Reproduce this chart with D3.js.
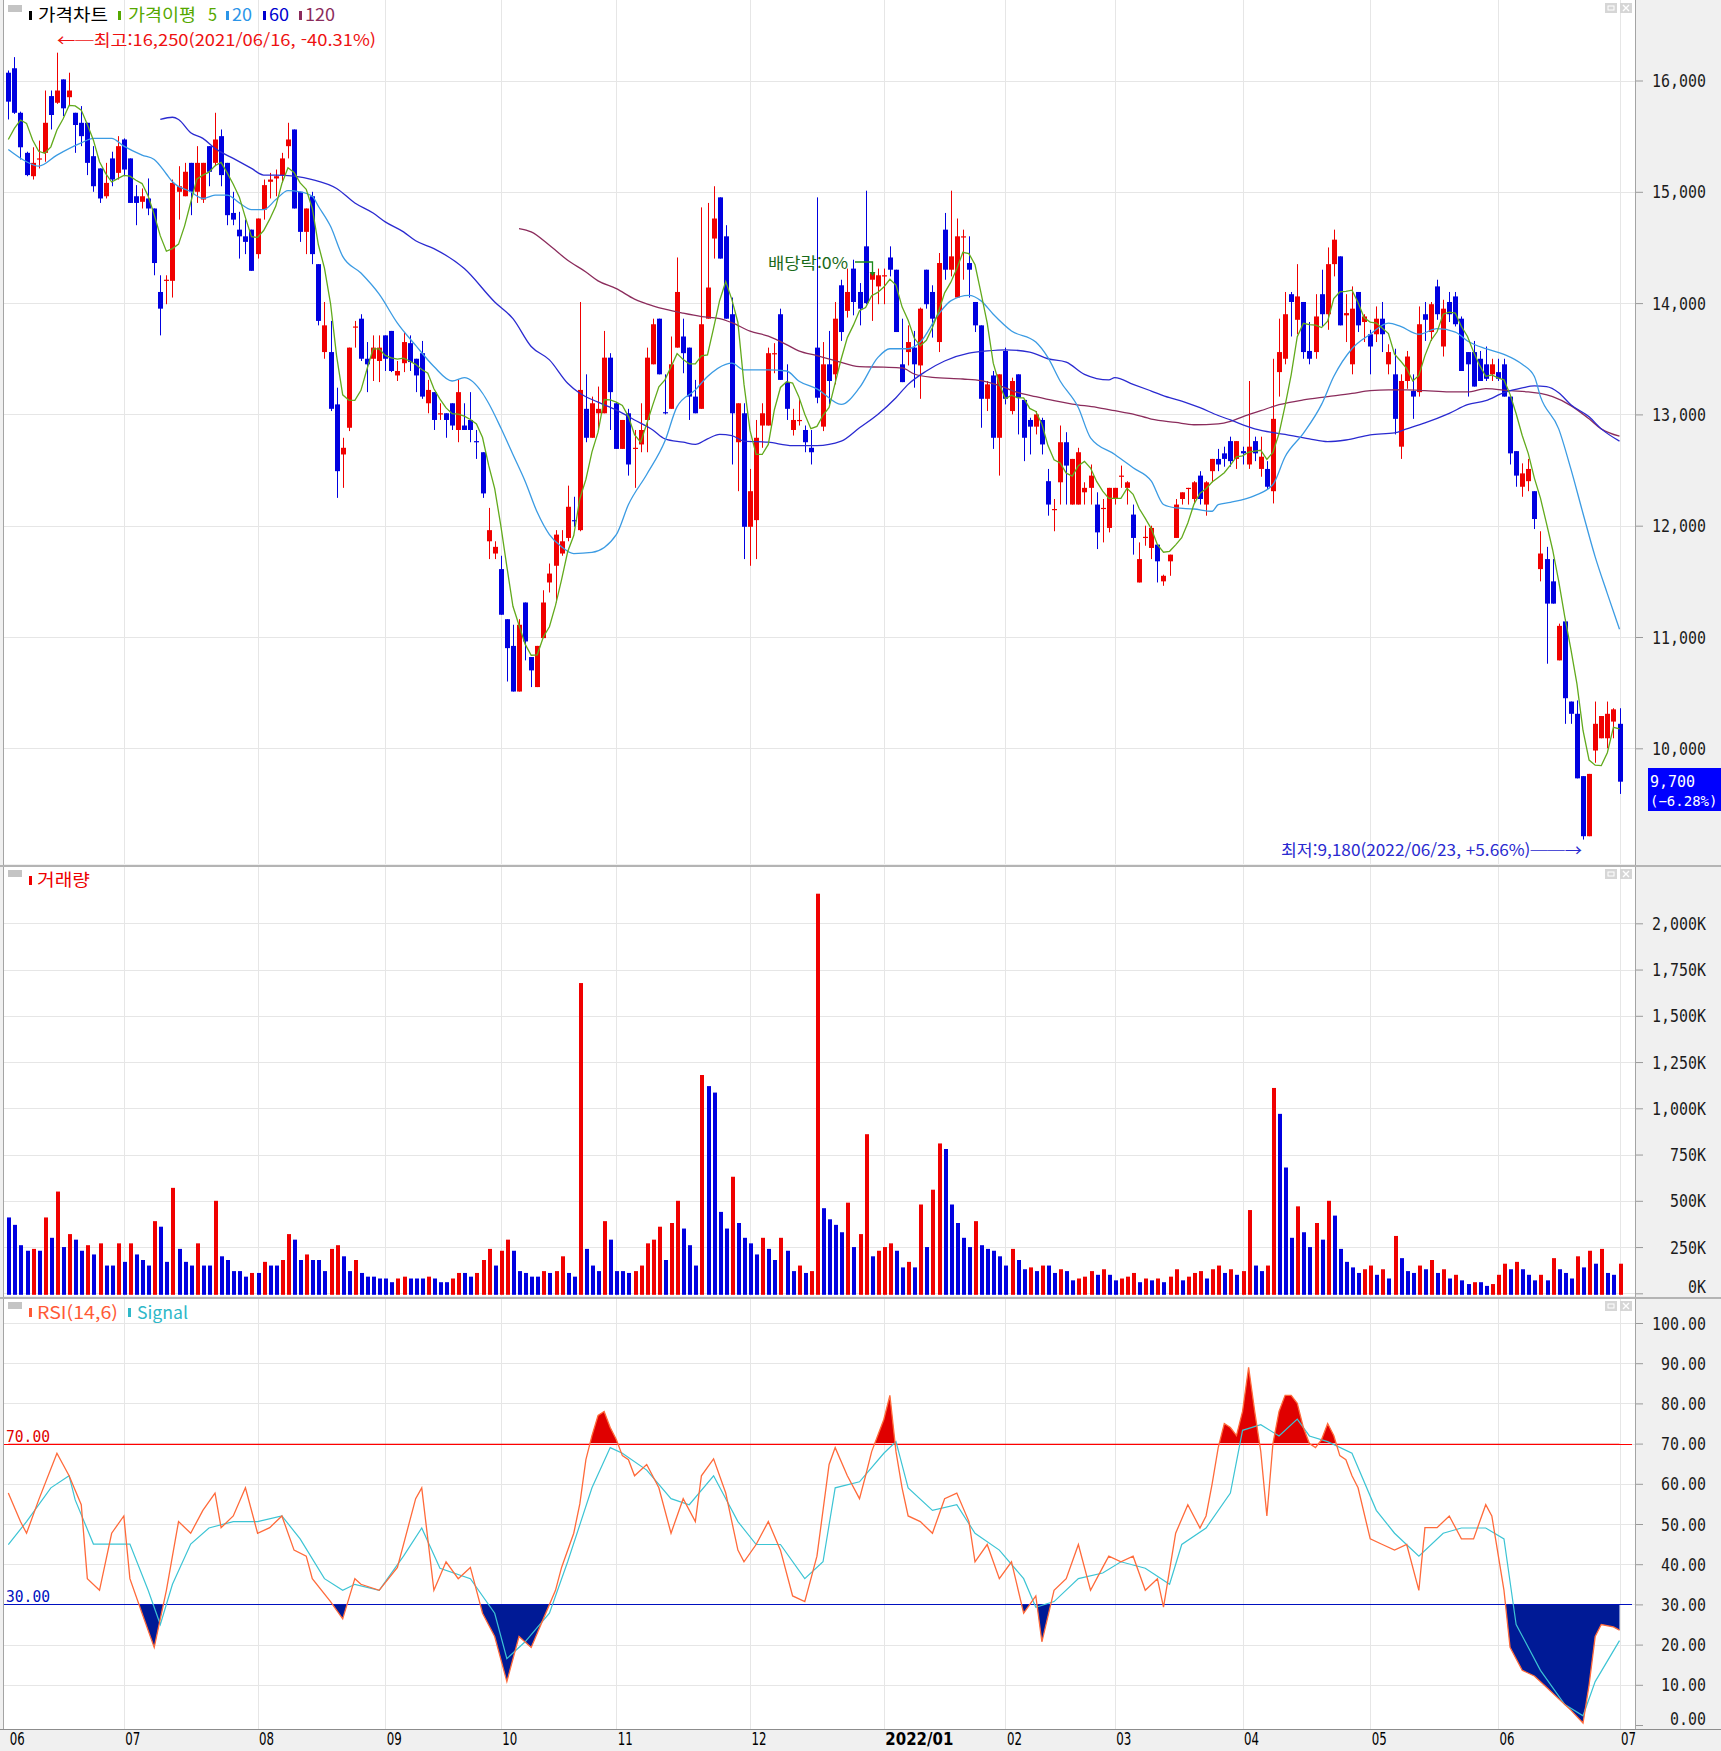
<!DOCTYPE html>
<html lang="ko"><head><meta charset="utf-8"><title>가격차트</title>
<script src="https://cdn.jsdelivr.net/npm/d3@7/dist/d3.min.js"></script>
<style>html,body{margin:0;padding:0;background:#f0f0f0;overflow:hidden}svg{display:block}</style>
</head><body><svg id="chart" width="1721" height="1751"></svg>
<script>
// ---------------- DATA ----------------
const openP=[16070,16110,15710,15350,15140,15290,15350,15860,15800,16010,
15850,15710,15620,15620,15320,15210,14960,15300,15170,15470,
15300,14960,14910,14940,14850,14100,14200,14200,15000,14960,
15260,15000,14930,15410,15260,15500,15260,14810,14660,14600,
14660,14440,14840,15090,15120,15150,15410,15560,15000,14640,
14960,14350,13560,13560,13090,12640,12880,13780,13860,13500,
13500,13480,13710,13750,13350,13460,13640,13500,13550,13100,
13200,13000,13010,13100,12860,12900,12950,12760,12660,11860,
11750,11610,11160,10920,10510,11310,10820,10550,10990,11490,
11640,11750,11890,12050,11960,13050,12790,13010,13010,13510,
13100,12690,13010,12690,12730,12950,13450,13860,13020,13050,
13600,13700,13600,13160,13050,13860,14580,14950,14600,13900,
12750,13010,11990,12050,12900,12900,13540,13900,13290,12860,
12940,12860,12700,13600,12890,13450,13360,14160,13930,14310,
14100,14510,14210,14150,14240,14410,14300,13450,13560,13600,
13440,14300,14100,13650,14660,14300,14050,14590,14360,14010,
13800,13140,13350,12790,13570,13030,13360,13130,12950,12890,
12950,12400,12150,12390,12750,12190,12190,12300,12340,12190,
12150,11980,12240,12440,12340,12100,11490,11890,11800,11830,
11500,11680,11890,12240,12330,12240,12450,12190,12490,12600,
12650,12760,12600,12670,12550,12760,12510,12510,12310,13380,
13500,14080,13850,14010,13570,13560,14080,13900,14350,14420,
13890,13450,14100,13830,13720,13720,13860,13450,13360,12710,
13300,13210,13200,13900,13740,14150,13610,14010,14060,13860,
13560,13560,13500,13450,13360,13380,13450,13160,12670,12350,
12400,12310,11610,11700,11500,10790,11140,10420,10310,9750,
9210,9980,10090,10090,10240,10220];
const highP=[16090,16210,15720,15360,15400,15460,15910,15910,16250,16010,
16070,15710,15770,15620,15410,15210,15260,15360,15500,15480,
15300,15060,15030,15120,14850,14250,14250,15110,15230,15260,
15260,15410,15260,15410,15710,15560,15260,15000,14820,14750,
14660,14760,15110,15170,15200,15350,15620,15560,15000,14850,
15000,14350,14010,13840,13240,12790,13600,13840,13900,13650,
13710,13710,13710,13750,13480,13740,13710,13500,13660,13310,
13200,13100,13010,13100,13310,13100,13200,12860,12660,12160,
11860,11730,11160,11110,11160,11310,10820,10920,11420,11660,
11960,11960,12360,12260,14010,13360,13160,13250,13750,13550,
13110,12950,13050,12860,13100,13600,13860,13860,13360,13700,
14410,13860,13600,13310,14860,14900,15050,14950,14700,14050,
13100,13100,12510,12950,13100,13600,13640,13950,13450,13050,
13140,12900,12860,14950,13650,13750,14010,14210,14310,14390,
14180,15010,14310,14310,14310,14510,14300,13860,13800,13750,
13960,14300,14160,14450,14810,15010,14760,14660,14600,14010,
13800,13300,13390,13360,13600,13330,13360,13130,12970,13030,
12970,12510,12240,12900,12840,12600,12700,12390,12550,12300,
12240,12340,12340,12540,12400,12190,11850,12000,12000,11830,
11560,11740,12240,12300,12340,12400,12490,12400,12600,12690,
12710,12800,12760,12710,13300,12800,12800,12580,13500,13860,
14100,14100,14350,14010,13830,14080,14300,14500,14660,14420,
14080,14150,14100,13900,13760,13970,14010,13630,13590,13360,
13570,13360,13970,14010,14010,14210,14030,14100,14100,13880,
13560,13660,13570,13610,13500,13500,13500,13160,12670,12560,
12600,12310,11950,11810,11700,11120,11160,10420,10430,9750,
9770,10420,10290,10420,10360,10360];
const lowP=[15650,15700,15290,15140,15110,15210,15270,15560,15790,15680,
15770,15350,15410,15150,15000,14900,14940,15050,15110,15140,
14900,14700,14850,14790,14250,13710,13990,14050,14750,14960,
14790,14900,14900,15050,15230,15050,14700,14700,14400,14440,
14290,14400,14750,14940,14960,15080,15300,14850,14550,14440,
14350,13800,13500,13030,12250,12340,12850,13600,13480,13200,
13300,13290,13390,13380,13300,13380,13390,13200,13140,13010,
12860,12950,12790,12860,12750,12860,12750,12600,12250,11700,
11700,11200,10600,10510,10510,10790,10550,10550,10990,11400,
11310,11730,11860,11990,11950,12750,12790,12870,13010,12860,
12690,12690,12450,12340,12660,12660,13450,13360,13000,13050,
13600,13370,12950,13010,13050,13860,14400,14400,13860,12550,
12310,11700,11640,11700,12700,12900,13370,13310,12950,12810,
12900,12660,12550,13100,12850,13090,13270,13660,13870,13890,
13800,13990,13840,13990,13990,14240,13740,13290,13440,13240,
13140,13950,13690,13560,14210,14240,14050,14210,14050,13740,
12880,13030,12690,12450,13090,13000,12820,12580,12640,12820,
12640,12090,11950,12190,12190,12190,12190,12190,12190,11790,
11850,11940,12190,12340,12190,11740,11490,11820,11700,11490,
11460,11550,11890,12190,12190,12200,12190,12090,12390,12490,
12530,12530,12510,12550,12510,12580,12440,12330,12200,13160,
13450,13700,13720,13500,13450,13500,13790,13760,14240,13800,
13650,13360,13740,13650,13360,13650,13560,13360,12820,12600,
13230,12960,13160,13660,13660,13850,13520,13830,13790,13390,
13160,13250,13300,13300,13300,13300,13160,12550,12350,12260,
12310,11970,11500,10760,11300,10790,10220,10220,9730,9180,
9210,9870,10090,10000,10090,9590];
const closeP=[15810,15710,15400,15150,15260,15300,15620,15690,15910,15750,
15910,15600,15500,15260,15050,14940,15080,15110,15410,15200,
14900,14900,14960,14850,14360,13950,14210,15080,15050,15180,
15000,15260,15260,15180,15470,15150,14790,14750,14600,14550,
14290,14760,15060,15110,15140,15300,15470,14850,14640,14850,
14440,13840,13800,13050,12490,12700,13600,13790,13500,13450,
13600,13600,13500,13390,13390,13650,13470,13350,13160,13220,
12950,13010,12950,12900,13200,12860,12860,12750,12290,11960,
11810,11200,10900,10510,11110,10960,10700,10920,11310,11570,
11920,11860,12170,12040,13220,12790,13100,13050,13510,13200,
12690,12950,12550,12700,12860,13510,13810,13360,13010,13450,
14100,13550,13160,13010,13810,14140,14760,14400,13860,13010,
13100,11990,12310,12790,13010,13550,13550,13310,13050,12950,
12950,12750,12660,13150,13450,13300,13860,13740,14100,14010,
13950,14000,14270,14250,14250,14300,13740,13290,13650,13450,
13950,13990,13860,14360,14300,14420,14600,14600,14300,13800,
13140,13270,12790,13360,13140,13300,13150,12790,12890,13000,
12730,12190,12150,12750,12540,12600,12660,12340,12450,11940,
12160,12340,12340,12450,12390,11890,11700,11900,11980,11680,
11550,11740,12190,12300,12340,12390,12240,12390,12600,12550,
12600,12580,12760,12650,12710,12650,12620,12350,12960,13560,
13900,14010,14060,13560,13500,13880,13900,14350,14570,13800,
13910,13950,13800,13880,13610,13860,13720,13560,12960,13300,
13520,13160,13810,13850,13990,13900,13950,13900,13810,13390,
13450,13250,13300,13320,13450,13320,13160,12650,12450,12470,
12510,12060,11750,11300,11300,11100,10450,10310,9730,9210,
9770,10220,10290,10310,10350,9700];
// volume in thousands of shares
const volumeK=[410,370,260,230,240,230,410,300,550,250,
320,290,230,260,210,270,150,150,270,170,
270,210,180,150,390,360,170,570,240,170,
150,270,150,150,500,200,180,120,120,90,
110,110,170,150,150,180,320,290,180,210,
180,180,120,240,260,200,120,180,110,90,
90,80,80,60,80,90,80,80,80,90,
80,60,60,80,110,110,90,110,180,240,
150,230,290,230,120,110,90,90,120,110,
120,200,110,90,1677,240,150,120,390,290,
120,120,110,120,150,270,290,360,180,380,
500,350,260,150,1180,1120,1085,440,350,630,
380,300,270,210,300,240,180,300,230,120,
150,110,120,2160,460,400,370,330,490,250,
320,860,200,230,250,270,230,140,170,140,
480,250,560,810,780,480,380,300,250,390,
260,240,230,200,150,240,180,130,140,120,
150,150,110,130,120,70,80,90,120,100,
130,100,70,80,90,110,60,80,70,80,
60,90,130,70,90,110,120,80,130,150,
110,130,100,120,450,150,120,150,1110,970,
680,300,470,330,250,380,290,500,420,240,
170,140,110,130,150,100,130,80,310,190,
120,110,150,130,180,110,130,80,100,70,
50,60,60,40,50,100,160,130,170,130,
100,70,100,70,190,130,110,80,200,140,
230,160,240,110,100,160];
// 5-day MA values read for the first four candles (their window starts before the chart)
const ma5Start=[15470,15570,15645,15615];
// moving averages: [candle index, value]
const ma20Pts=[[0,15380],[3,15270],[5,15230],[8,15330],[12,15440],[14,15480],[17,15480],[19,15410],[22,15330],[24,15290],[26,15160],[27,15090],[30,15000],[32,14940],[34,14970],[36,14970],[38,14900],[40,14840],[42,14840],[44,14930],[46,15010],[48,15000],[50,14960],[51,14870],[53,14690],[55,14420],[58,14270],[61,14080],[64,13820],[67,13620],[70,13430],[73,13300],[75,13330],[78,13190],[79,13100],[81,12880],[83,12640],[85,12400],[87,12120],[89,11920],[91,11810],[93,11750],[96,11760],[100,11920],[102,12190],[105,12460],[108,12760],[110,13070],[113,13220],[115,13340],[118,13450],[119,13460],[121,13400],[125,13400],[128,13390],[130,13300],[133,13230],[137,13090],[140,13240],[143,13510],[145,13590],[148,13590],[150,13650],[153,13900],[155,14020],[158,14070],[160,14020],[162,13900],[165,13750],[169,13650],[171,13510],[173,13300],[176,13060],[178,12790],[182,12640],[185,12520],[188,12400],[190,12190],[192,12160],[195,12150],[198,12130],[199,12190],[201,12210],[205,12270],[208,12370],[210,12620],[213,12830],[216,13090],[218,13340],[221,13590],[224,13720],[227,13820],[229,13790],[232,13720],[235,13770],[238,13740],[240,13660],[243,13590],[246,13540],[249,13450],[251,13340],[252,13160],[255,12870],[257,12510],[259,12110],[261,11720],[263,11390],[265,11070]];
const ma60Pts=[[25,15650],[27,15670],[28,15650],[30,15530],[32,15480],[34,15390],[37,15300],[40,15210],[42,15150],[44,15150],[47,15140],[50,15110],[54,15030],[57,14900],[60,14810],[62,14730],[65,14640],[67,14560],[70,14490],[75,14310],[80,14010],[83,13860],[86,13610],[89,13490],[92,13280],[94,13190],[97,13110],[100,13040],[103,12950],[106,12860],[108,12780],[111,12750],[113,12730],[115,12780],[117,12820],[119,12810],[121,12760],[125,12750],[129,12720],[133,12720],[137,12760],[140,12880],[143,13000],[146,13150],[148,13270],[151,13390],[154,13480],[158,13550],[161,13570],[164,13580],[168,13560],[171,13500],[174,13470],[177,13360],[181,13310],[182,13330],[185,13270],[188,13210],[191,13150],[193,13120],[196,13060],[199,12990],[201,12950],[205,12870],[210,12820],[214,12780],[217,12755],[220,12770],[224,12816],[228,12834],[230,12870],[233,12924],[237,13010],[240,13087],[243,13123],[246,13195],[249,13238],[251,13256],[253,13249],[255,13195],[257,13087],[260,12978],[262,12870],[265,12760]];
const ma120Pts=[[84,14670],[86,14640],[89,14520],[92,14385],[95,14280],[97,14200],[100,14130],[103,14036],[106,13976],[108,13945],[111,13909],[114,13879],[117,13861],[119,13824],[122,13748],[125,13703],[128,13627],[130,13570],[133,13528],[136,13484],[140,13429],[144,13424],[147,13418],[149,13363],[152,13333],[157,13318],[160,13303],[163,13258],[166,13198],[169,13159],[172,13123],[175,13093],[179,13063],[182,13033],[185,13003],[188,12958],[192,12928],[195,12907],[199,12915],[201,12937],[203,12978],[206,13033],[209,13087],[213,13130],[217,13159],[221,13188],[224,13213],[227,13220],[230,13220],[233,13213],[237,13202],[240,13202],[243,13231],[247,13213],[250,13202],[252,13188],[254,13159],[257,13079],[260,12960],[262,12870],[265,12805]];
// RSI(14) and Signal(6): [candle index, value]
const rsiPts=[[0,57.7],[2,50.6],[3,47.7],[5,56],[8,67.6],[10,62],[12,54.8],[13,36.4],[15,33.5],[17,47.7],[19,52],[20,36.4],[22,27.8],[24,19.3],[26,33.5],[28,50.6],[30,47.7],[32,53.4],[34,57.7],[35,49.1],[37,52],[39,59],[41,47.7],[43,49.1],[45,52],[47,43.5],[49,42],[50,36.4],[53,30.7],[55,26.4],[57,36.4],[58,35],[61,33.5],[64,39.2],[67,56.3],[68,59],[70,33.5],[72,40.6],[74,36.4],[76,39.2],[78,27.8],[80,22],[82,10.8],[84,22],[86,19.3],[88,26.4],[90,33.5],[91,39.2],[93,47.7],[94,55],[95,66],[96,72],[97,77],[98,78],[99,74],[100,71],[101,67],[102,66],[103,62],[105,64.8],[107,59],[109,47.7],[111,56.3],[113,50.6],[114,62],[116,66.2],[118,57.7],[120,43.5],[121,40.6],[123,44.9],[125,50.6],[127,43.5],[129,32.1],[131,30.7],[133,42],[135,64.8],[136,69],[138,62],[140,56.3],[141,62],[142,68],[143,72],[144,76],[145,82],[146,68],[147,59],[148,52],[150,50.6],[152,47.7],[154,56.3],[156,57.7],[158,50.6],[159,40.6],[161,44.9],[163,36.4],[165,40.6],[167,27.8],[169,32.1],[170,20.7],[172,33.5],[174,36.4],[176,44.9],[178,33.5],[180,39.2],[181,42],[183,40.6],[185,42],[187,33.5],[189,36.4],[190,29.3],[192,47.7],[194,54.8],[196,49],[197,52],[198,60],[199,69],[200,75],[201,74],[202,72],[203,78],[204,89],[205,78],[206,68],[207,52],[208,70],[209,78],[210,82],[211,82],[212,80],[213,74],[214,70],[215,69],[216,71],[217,75],[218,72],[219,67],[220,66],[221,62],[222,59],[224,46.3],[226,44.9],[228,43.5],[230,44.9],[232,33.5],[233,49.1],[235,49.1],[237,52],[239,46.3],[241,46.3],[243,54.8],[244,52],[246,33.5],[247,19.3],[249,13.6],[251,12.2],[253,9.4],[255,6.5],[257,3.7],[259,0.5],[260,10],[261,22],[262,25],[264,24.4],[265,23.6]];
const signalPts=[[0,44.9],[3,50.6],[7,59],[10,62],[11,56],[14,45],[17,45],[20,45],[23,33.5],[25,25],[27,35],[30,45],[33,49],[37,50.6],[41,50.6],[45,52],[48,46.3],[52,36.4],[55,33.5],[57,35],[61,33.5],[65,42],[68,49],[71,39],[76,36.4],[80,27.8],[82,16.5],[85,20.7],[89,27.8],[92,40.6],[96,59],[99,69],[101,67.6],[105,63.4],[109,56.3],[112,54.8],[116,62],[120,50.6],[123,44.9],[127,44.9],[131,36.4],[134,40.6],[136,59],[140,60.5],[144,67.6],[146,70.5],[148,59],[152,53.4],[156,54.8],[159,47.7],[163,43.5],[167,36.4],[169,29.3],[172,30.7],[176,36.4],[180,37.8],[183,40.6],[187,39],[191,35],[193,44.9],[197,49],[201,57.7],[203,73.3],[206,74.7],[209,71.9],[212,76.1],[214,71.9],[217,70.5],[221,67.6],[225,53.4],[228,47.7],[232,42],[236,47.7],[239,49],[243,49],[246,46.3],[248,25],[252,13.6],[256,5.1],[259,2.3],[261,10.8],[265,21]];
const monthIdx=[0,19,41,62,81,100,122,144,164,182,203,224,245,265];
const monthLbl=["06","07","08","09","10","11","12","2022/01","02","03","04","05","06","07"];
const priceTicks=[10000,11000,12000,13000,14000,15000,16000];
const volTicks=[0,250,500,750,1000,1250,1500,1750,2000];
const rsiTicks=[0,10,20,30,40,50,60,70,80,90,100];

// ---------------- DRAWING ----------------
const svg=d3.select('#chart');
const W=1721,H=1751,L=4,R=1635;
const MONO='"DejaVu Sans Mono","Liberation Mono",monospace';
const KR='"Noto Sans CJK KR","Noto Sans",sans-serif';
const UP='#f00000',DN='#0000e0';
const N=closeP.length, idx=d3.range(N);

const x=d3.scaleLinear().domain([0,N-1]).range([8.3,1619.5]);
const yP=d3.scaleLinear().domain([10000,16000]).range([748.3,80.5]);
const yV=d3.scaleLinear().domain([0,2000]).range([1293.3,923.3]);
const yR=d3.scaleLinear().domain([0,100]).range([1725,1323]);
const px=v=>Math.round(v)+0.5;

svg.append('rect').attr('width',W).attr('height',H).attr('fill','#f0f0f0');
const panels=[[0,864],[867,1296],[1299,1729]];
svg.append('g').selectAll('rect').data(panels).join('rect')
  .attr('x',L).attr('y',d=>d[0]).attr('width',R-L).attr('height',d=>d[1]-d[0]).attr('fill','#fff');

// grid
const grid=svg.append('g').attr('stroke','#e6e6e6').attr('stroke-width',1);
grid.selectAll('.gp').data(priceTicks).join('line').attr('x1',L).attr('x2',R).attr('y1',d=>px(yP(d))).attr('y2',d=>px(yP(d)));
grid.selectAll('.gv').data(volTicks).join('line').attr('x1',L).attr('x2',R).attr('y1',d=>px(yV(d))).attr('y2',d=>px(yV(d)));
grid.selectAll('.gr').data(rsiTicks.filter(d=>d>0)).join('line').attr('x1',L).attr('x2',R).attr('y1',d=>px(yR(d))).attr('y2',d=>px(yR(d)));
panels.forEach(([a,b])=>{
  grid.append('g').selectAll('line').data(monthIdx.slice(1)).join('line')
    .attr('x1',d=>px(x(d))).attr('x2',d=>px(x(d))).attr('y1',a).attr('y2',b);
});

// frame lines
const fr=svg.append('g').attr('stroke','#a4a4a4');
fr.append('line').attr('x1',3.5).attr('x2',3.5).attr('y1',0).attr('y2',1729);
fr.append('line').attr('x1',R+0.5).attr('x2',R+0.5).attr('y1',0).attr('y2',1729);
[865,866,1297,1298,1729.5].forEach(yy=>fr.append('line').attr('x1',0).attr('x2',W).attr('y1',Math.floor(yy)+0.5).attr('y2',Math.floor(yy)+0.5).attr('stroke',yy%1?'#8c8c8c':'#b4b4b4'));

// ---- candles
const cg=svg.append('g');
cg.selectAll('line').data(idx).join('line')
  .attr('x1',i=>px(x(i))).attr('x2',i=>px(x(i)))
  .attr('y1',i=>yP(highP[i])).attr('y2',i=>yP(lowP[i]))
  .attr('stroke',i=>closeP[i]>=openP[i]?UP:DN).attr('stroke-width',1);
cg.selectAll('rect').data(idx).join('rect')
  .attr('x',i=>Math.round(x(i))-2).attr('width',5)
  .attr('y',i=>yP(Math.max(openP[i],closeP[i])))
  .attr('height',i=>Math.max(1.2,Math.abs(yP(openP[i])-yP(closeP[i]))))
  .attr('fill',i=>closeP[i]>=openP[i]?UP:DN);

// ---- moving averages
const ma5=idx.map(i=>[i,i<ma5Start.length?ma5Start[i]:d3.mean(closeP.slice(i-4,i+1))]);
const lineLin=d3.line().x(d=>x(d[0])).y(d=>yP(d[1]));
const lineSm=d3.line().x(d=>x(d[0])).y(d=>yP(d[1])).curve(d3.curveMonotoneX);
const maG=svg.append('g').attr('fill','none').attr('stroke-width',1.3);
maG.append('path').attr('d',lineSm(ma120Pts)).attr('stroke','#8b2c5c');
maG.append('path').attr('d',lineSm(ma60Pts)).attr('stroke','#2a2ad0');
maG.append('path').attr('d',lineSm(ma20Pts)).attr('stroke','#3b9be3');
maG.append('path').attr('d',lineLin(ma5)).attr('stroke','#62aa1c');

// ---- volume (red when volume rises vs. previous day, blue when it falls)
const vg=svg.append('g');
vg.selectAll('rect').data(idx).join('rect')
  .attr('x',i=>Math.round(x(i))-1).attr('width',4)
  .attr('y',i=>yV(volumeK[i])).attr('height',i=>yV(0)-yV(volumeK[i])+1.5)
  .attr('fill',i=>(i>0&&volumeK[i]>volumeK[i-1])?UP:DN);

// ---- RSI
const rl=d3.line().x(d=>x(d[0])).y(d=>yR(d[1]));
const defs=svg.append('defs');
defs.append('clipPath').attr('id','hiClip').append('rect').attr('x',L).attr('y',1299).attr('width',R-L).attr('height',yR(70)-1299);
defs.append('clipPath').attr('id','loClip').append('rect').attr('x',L).attr('y',yR(30)).attr('width',R-L).attr('height',1729-yR(30));
const areaHi=d3.area().x(d=>x(d[0])).y0(yR(70)).y1(d=>yR(d[1]));
const areaLo=d3.area().x(d=>x(d[0])).y0(yR(30)).y1(d=>yR(d[1]));
svg.append('path').attr('d',areaHi(rsiPts)).attr('fill','#e00000').attr('clip-path','url(#hiClip)');
svg.append('path').attr('d',areaLo(rsiPts)).attr('fill','#001a96').attr('clip-path','url(#loClip)');
svg.append('line').attr('x1',L).attr('x2',1632).attr('y1',px(yR(70))).attr('y2',px(yR(70))).attr('stroke','#ff0000');
svg.append('line').attr('x1',L).attr('x2',1632).attr('y1',px(yR(30))).attr('y2',px(yR(30))).attr('stroke','#0010c0');
svg.append('path').attr('d',rl(signalPts)).attr('fill','none').attr('stroke','#3cc4d4').attr('stroke-width',1.2);
svg.append('path').attr('d',rl(rsiPts)).attr('fill','none').attr('stroke','#ff6a3a').attr('stroke-width',1.3);
svg.append('text').text('70.00').attr('x',6).attr('y',yR(70)-2).attr('fill','#e00000')
  .style('font-family',MONO).style('font-size','16px').attr('textLength',44).attr('lengthAdjust','spacingAndGlyphs');
svg.append('text').text('30.00').attr('x',6).attr('y',yR(30)-2).attr('fill','#0010c0')
  .style('font-family',MONO).style('font-size','16px').attr('textLength',44).attr('lengthAdjust','spacingAndGlyphs');

// ---- right axes
function styleAxis(g,fmt,zeroV){
  g.select('.domain').remove();
  g.selectAll('.tick line').attr('stroke','#9a9a9a');
  g.selectAll('.tick text').attr('x',70).attr('dy',null).attr('text-anchor','end')
    .attr('y',d=>d===zeroV?-1:6).attr('fill','#1c1c1c')
    .style('font-family',MONO).style('font-size','17px')
    .attr('textLength',d=>fmt(d).length*9).attr('lengthAdjust','spacingAndGlyphs');
}
const fP=d3.format(','), fV=d=>d3.format(',')(d)+'K', fR=d3.format('.2f');
const gP=svg.append('g').attr('transform',`translate(${R+1},0)`).call(d3.axisRight(yP).tickValues(priceTicks).tickSize(7).tickFormat(fP));
styleAxis(gP,fP,-1);
const gV=svg.append('g').attr('transform',`translate(${R+1},0)`).call(d3.axisRight(yV).tickValues(volTicks).tickSize(7).tickFormat(fV));
styleAxis(gV,fV,0);
const gR=svg.append('g').attr('transform',`translate(${R+1},0)`).call(d3.axisRight(yR).tickValues(rsiTicks).tickSize(7).tickFormat(fR));
styleAxis(gR,fR,0);

// ---- bottom axis
const gX=svg.append('g').attr('transform','translate(0,1730)')
  .call(d3.axisBottom(x).tickValues(monthIdx).tickSize(0).tickFormat((d,k)=>monthLbl[k]));
gX.select('.domain').remove();
gX.selectAll('.tick text').attr('text-anchor','start').attr('dy',null).attr('y',15).attr('x',1)
  .attr('fill','#000').style('font-family','"DejaVu Sans","Liberation Sans",sans-serif').style('font-size','18px')
  .style('font-weight',(d,k)=>monthLbl[k].length>2?'bold':'normal')
  .attr('textLength',(d,k)=>monthLbl[k].length>2?68:15).attr('lengthAdjust','spacingAndGlyphs');

// ---- current price tag
svg.append('rect').attr('x',1648).attr('y',768).attr('width',73).attr('height',43).attr('fill','#0000ff');
const lastC=closeP[N-1], prevC=closeP[N-2];
svg.append('text').text(d3.format(',')(lastC)).attr('x',1650).attr('y',787).attr('fill','#fff')
  .style('font-family',MONO).style('font-size','15px');
svg.append('text').text('('+d3.format('.2f')((lastC/prevC-1)*100)+'%)').attr('x',1650).attr('y',806).attr('fill','#fff')
  .style('font-family',MONO).style('font-size','14px');

// ---- annotations
function txt(t,xx,yy,color,len,size){
  return svg.append('text').text(t).attr('x',xx).attr('y',yy).attr('fill',color)
    .style('font-family',KR).style('font-size',(size||16)+'px')
    .attr('textLength',len).attr('lengthAdjust','spacingAndGlyphs');
}
txt('←─최고:16,250(2021/06/16, -40.31%)',57,46,'#ee1111',319);
txt('최저:9,180(2022/06/23, +5.66%)──→',1281,856,'#2a2ad0',301);
txt('배당락:0%',768,269,'#1a6a1a',80);
svg.append('path').attr('d',`M855,262H${px(x(142))}V274`).attr('fill','none').attr('stroke','#1a8a1a').attr('stroke-width',1.3);
svg.append('path').attr('d',`M${px(x(142))-3},272L${px(x(142))+3},272L${px(x(142))},276Z`).attr('fill','#1a8a1a');

// ---- legends
function legendMark(xx,yy,color){svg.append('rect').attr('x',xx).attr('y',yy).attr('width',3).attr('height',9).attr('fill',color);}
function icon(yy){svg.append('rect').attr('x',8).attr('y',yy).attr('width',14).attr('height',7).attr('fill','#c4c4c4');}
icon(5); icon(870); icon(1302);
legendMark(29,11,'#000'); txt('가격차트',38,21,'#000',70,17);
legendMark(118,11,'#55a800'); txt('가격이평',128,21,'#55a800',68,17); txt('5',208,21,'#55a800',9,17);
legendMark(226,11,'#2b95e8'); txt('20',232,21,'#2b95e8',20,17);
legendMark(263,11,'#0000d0'); txt('60',269,21,'#0000d0',20,17);
legendMark(299,11,'#8b2c5c'); txt('120',305,21,'#8b2c5c',30,17);
legendMark(29,876,'#ee0000'); txt('거래량',37,886,'#ee0000',53,17);
legendMark(29,1308,'#ff5a36'); txt('RSI(14,6)',37,1319,'#ff5a36',81,17);
legendMark(128,1308,'#2fb8c8'); txt('Signal',137,1319,'#2fb8c8',51,17);

// panel buttons (minimise / close)
[3,869,1301].forEach(yy=>{
  svg.append('rect').attr('x',1605).attr('y',yy).attr('width',12).attr('height',10).attr('fill','#d6d6d6');
  svg.append('rect').attr('x',1608).attr('y',yy+3).attr('width',6).attr('height',4).attr('fill','none').attr('stroke','#fff');
  svg.append('rect').attr('x',1620).attr('y',yy).attr('width',12).attr('height',10).attr('fill','#d6d6d6');
  svg.append('path').attr('d',`M1623,${yy+2}L1629,${yy+8}M1629,${yy+2}L1623,${yy+8}`).attr('stroke','#fff').attr('stroke-width',1.4);
});
</script></body></html>
